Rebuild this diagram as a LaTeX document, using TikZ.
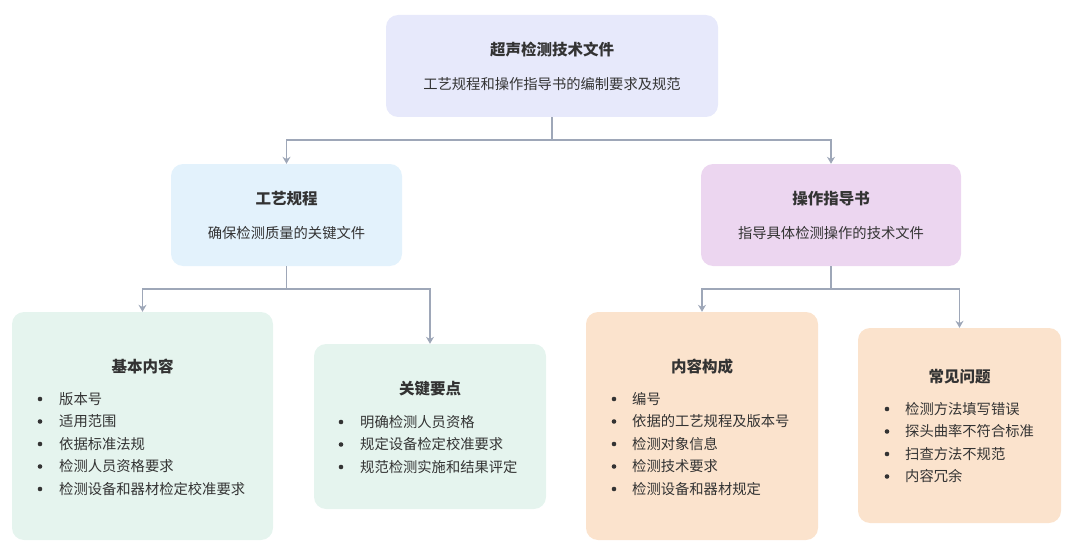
\documentclass[tikz,border=0pt]{standalone}
\usepackage{fontspec}
\setmainfont{Noto Sans CJK SC}
\usetikzlibrary{arrows.meta}
\definecolor{rootc}{HTML}{E7E9FB}
\definecolor{blc}{HTML}{E3F2FC}
\definecolor{puc}{HTML}{ECD6F0}
\definecolor{mic}{HTML}{E5F4EE}
\definecolor{orc}{HTML}{FBE3CD}
\definecolor{linec}{HTML}{9EA7B8}
\definecolor{txt}{HTML}{333333}
\tikzset{
  boxs/.style={rounded corners=12pt, draw=none},
  ttl/.style={font=\fontsize{15.5}{18}\selectfont\bfseries, text=txt, inner sep=0pt},
  sub/.style={font=\fontsize{14.3}{17}\selectfont, text=txt, inner sep=0pt},
  itm/.style={font=\fontsize{14.3}{17}\selectfont, text=txt, inner sep=0pt, anchor=west},
  conn/.style={draw=linec, line width=1.4pt, -{Stealth[length=7pt,width=8pt]}},
  seg/.style={draw=linec, line width=1.4pt},
}
\newcommand{\bul}[4]{% name, bullet x, text x, y
  \fill[txt] (#2,#4) circle (2.3pt);
  \node[itm] (#1) at (#3,#4) }
\begin{document}
\begin{tikzpicture}[x=1pt,y=-1pt]
\useasboundingbox (0,0) rectangle (1080,551);
% boxes
\node[boxs, fill=rootc, minimum width=332pt, minimum height=102pt] (root) at (552,66) {};
\node[boxs, fill=blc, minimum width=231pt, minimum height=102pt] (gy) at (286.5,215) {};
\node[boxs, fill=puc, minimum width=260pt, minimum height=102pt] (cz) at (831,215) {};
\node[boxs, fill=mic, minimum width=261pt, minimum height=228pt] (jb) at (142.5,426) {};
\node[boxs, fill=mic, minimum width=232pt, minimum height=165pt] (gj) at (430,426.5) {};
\node[boxs, fill=orc, minimum width=232pt, minimum height=228pt] (nr) at (702,426) {};
\node[boxs, fill=orc, minimum width=203pt, minimum height=195pt] (cj) at (959.5,425.5) {};
% texts
\node[ttl] (roott) at (552,50) {超声检测技术文件};
\node[sub] (roots) at (552,84) {工艺规程和操作指导书的编制要求及规范};
\node[ttl] (gyt) at (286.5,199) {工艺规程};
\node[sub] (gys) at (286.5,233) {确保检测质量的关键文件};
\node[ttl] (czt) at (831,199) {操作指导书};
\node[sub] (czs) at (831,233) {指导具体检测操作的技术文件};
\node[ttl] (jbt) at (142.5,367) {基本内容};
\node[ttl] (gjt) at (430,389) {关键要点};
\node[ttl] (nrt) at (702,367) {内容构成};
\node[ttl] (cjt) at (959.5,377) {常见问题};
% items
\bul{jb1}{40}{59}{399} {版本号};
\bul{jb2}{40}{59}{421.5} {适用范围};
\bul{jb3}{40}{59}{444} {依据标准法规};
\bul{jb4}{40}{59}{466.5} {检测人员资格要求};
\bul{jb5}{40}{59}{489} {检测设备和器材检定校准要求};
\bul{gj1}{341}{360}{422} {明确检测人员资格};
\bul{gj2}{341}{360}{444.5} {规定设备检定校准要求};
\bul{gj3}{341}{360}{467} {规范检测实施和结果评定};
\bul{nr1}{614}{632}{399} {编号};
\bul{nr2}{614}{632}{421.5} {依据的工艺规程及版本号};
\bul{nr3}{614}{632}{444} {检测对象信息};
\bul{nr4}{614}{632}{466.5} {检测技术要求};
\bul{nr5}{614}{632}{489} {检测设备和器材规定};
\bul{cj1}{887}{905}{409} {检测方法填写错误};
\bul{cj2}{887}{905}{431.5} {探头曲率不符合标准};
\bul{cj3}{887}{905}{454} {扫查方法不规范};
\bul{cj4}{887}{905}{476.5} {内容冗余};
% connectors
\coordinate (j0) at (552,140);
\coordinate (j1) at (286.5,289);
\coordinate (j2) at (831,289);
\draw[seg] (root.south) -- (j0);
\draw[conn] (j0) -| (gy.north);
\draw[conn] (j0) -| (cz.north);
\draw[seg] (gy.south) -- (j1);
\draw[conn] (j1) -| (jb.north);
\draw[conn] (j1) -| (gj.north);
\draw[seg] (cz.south) -- (j2);
\draw[conn] (j2) -| (nr.north);
\draw[conn] (j2) -| (cj.north);
\end{tikzpicture}
\end{document}
